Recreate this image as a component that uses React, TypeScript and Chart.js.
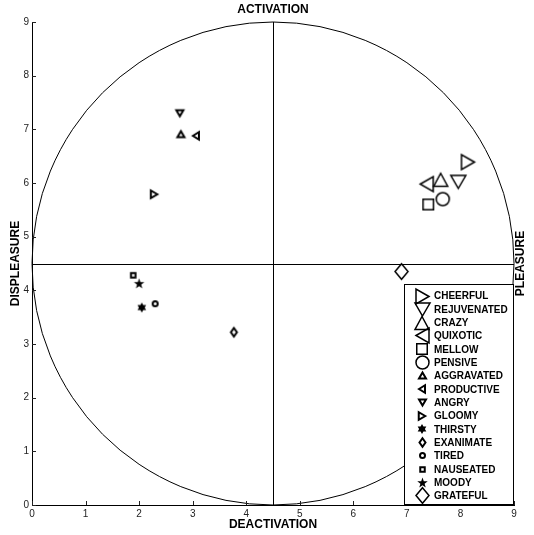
import React, { useEffect, useRef } from 'react';
import { Chart, registerables } from 'chart.js';
Chart.register(...registerables);

// ---- data ----
const emotions = ['CHEERFUL', 'REJUVENATED', 'CRAZY', 'QUIXOTIC', 'MELLOW', 'PENSIVE', 'AGGRAVATED', 'PRODUCTIVE', 'ANGRY', 'GLOOMY', 'THIRSTY', 'EXANIMATE', 'TIRED', 'NAUSEATED', 'MOODY', 'GRATEFUL'];
const deactivationValues = [8.14, 7.96, 7.63, 7.37, 7.40, 7.67, 2.78, 3.06, 2.76, 2.28, 2.05, 3.77, 2.30, 1.89, 2.00, 6.90];
const activationValues = [6.39, 6.02, 6.06, 5.98, 5.60, 5.70, 6.91, 6.88, 7.30, 5.79, 3.68, 3.22, 3.75, 4.28, 4.13, 4.35];
const xTickValues = [0, 1, 2, 3, 4, 5, 6, 7, 8, 9];
const yTickValues = [0, 1, 2, 3, 4, 5, 6, 7, 8, 9];
const centerValue = 4.5;

// ---- marker styles (by label) ----
type Spec = { shape: string; w: number; h: number; lw: number };
const markerStyle: Record<string, Spec> = {
  CHEERFUL: { shape: 'triRight', w: 13, h: 15, lw: 1.5 },
  REJUVENATED: { shape: 'triDown', w: 15, h: 13, lw: 1.5 },
  CRAZY: { shape: 'triUp', w: 14, h: 13, lw: 1.5 },
  QUIXOTIC: { shape: 'triLeft', w: 13, h: 15, lw: 1.5 },
  MELLOW: { shape: 'square', w: 10.5, h: 10.5, lw: 1.5 },
  PENSIVE: { shape: 'circle', w: 13, h: 13, lw: 1.5 },
  AGGRAVATED: { shape: 'triUp', w: 7, h: 6, lw: 2 },
  PRODUCTIVE: { shape: 'triLeft', w: 6, h: 7.5, lw: 2 },
  ANGRY: { shape: 'triDown', w: 7, h: 6, lw: 2 },
  GLOOMY: { shape: 'triRight', w: 6.5, h: 7.5, lw: 2 },
  THIRSTY: { shape: 'hexagram', w: 10, h: 10, lw: 0 },
  EXANIMATE: { shape: 'diamond', w: 6, h: 8.5, lw: 2 },
  TIRED: { shape: 'circle', w: 5, h: 5, lw: 2 },
  NAUSEATED: { shape: 'square', w: 4.5, h: 4.5, lw: 2 },
  MOODY: { shape: 'star', w: 11, h: 11, lw: 0 },
  GRATEFUL: { shape: 'diamond', w: 13, h: 15.5, lw: 1.5 },
};

function makeMarker(s: Spec): HTMLCanvasElement {
  const size = Math.ceil(Math.max(s.w, s.h) + s.lw + 4);
  const c = document.createElement('canvas');
  c.width = size;
  c.height = size;
  const g = c.getContext('2d')!;
  const cx = size / 2, cy = size / 2;
  const hw = s.w / 2, hh = s.h / 2;
  g.strokeStyle = '#000';
  g.fillStyle = '#000';
  g.lineWidth = s.lw;
  g.lineJoin = 'miter';
  g.beginPath();
  const poly = (pts: number[][]) => {
    g.moveTo(cx + pts[0][0], cy + pts[0][1]);
    for (let i = 1; i < pts.length; i++) g.lineTo(cx + pts[i][0], cy + pts[i][1]);
    g.closePath();
  };
  switch (s.shape) {
    case 'triUp': poly([[0, -hh], [hw, hh], [-hw, hh]]); break;
    case 'triDown': poly([[0, hh], [hw, -hh], [-hw, -hh]]); break;
    case 'triRight': poly([[hw, 0], [-hw, -hh], [-hw, hh]]); break;
    case 'triLeft': poly([[-hw, 0], [hw, -hh], [hw, hh]]); break;
    case 'square': poly([[-hw, -hh], [hw, -hh], [hw, hh], [-hw, hh]]); break;
    case 'diamond': poly([[0, -hh], [hw, 0], [0, hh], [-hw, 0]]); break;
    case 'circle': g.arc(cx, cy, hw, 0, Math.PI * 2); break;
    case 'star': {
      const R = hw, r = hw * 0.4;
      const pts: number[][] = [];
      for (let i = 0; i < 10; i++) {
        const a = -Math.PI / 2 + (i * Math.PI) / 5;
        const rr = i % 2 === 0 ? R : r;
        pts.push([rr * Math.cos(a), rr * Math.sin(a) + 0.5]);
      }
      poly(pts);
      g.fill();
      return c;
    }
    case 'hexagram': {
      const R = hw, r = hw * 0.577;
      const pts: number[][] = [];
      for (let i = 0; i < 12; i++) {
        const a = -Math.PI / 2 + (i * Math.PI) / 6;
        const rr = i % 2 === 0 ? R : r;
        pts.push([rr * Math.cos(a), rr * Math.sin(a)]);
      }
      poly(pts);
      g.fill();
      return c;
    }
  }
  g.stroke();
  return c;
}

const FONT = "'Liberation Sans', Arial, Helvetica, sans-serif";

export default function App() {
  const ref = useRef<HTMLCanvasElement>(null);
  useEffect(() => {
    document.body.style.margin = '0';
    const canvas = ref.current!;
    const markers = emotions.map((e) => makeMarker(markerStyle[e]));

    const decor = {
      id: 'decor',
      beforeDatasetsDraw(chart: any) {
        const { ctx, chartArea } = chart;
        const { left, right, top, bottom } = chartArea;
        const xs = chart.scales.x, ys = chart.scales.y;
        const cx = xs.getPixelForValue(centerValue);
        const cy = ys.getPixelForValue(centerValue);
        const rx = xs.getPixelForValue(xTickValues[xTickValues.length - 1]) - cx;
        const ry = cy - ys.getPixelForValue(yTickValues[yTickValues.length - 1]);
        ctx.save();
        ctx.strokeStyle = '#000';
        ctx.lineWidth = 1;
        ctx.beginPath();
        ctx.ellipse(cx, cy, rx, ry, 0, 0, Math.PI * 2);
        ctx.stroke();
        const vx = Math.round(cx) + 0.5, hy = Math.round(cy) + 0.5;
        ctx.beginPath();
        ctx.moveTo(vx, top);
        ctx.lineTo(vx, bottom);
        ctx.moveTo(left, hy);
        ctx.lineTo(right, hy);
        ctx.stroke();
        // inward ticks
        ctx.beginPath();
        ctx.strokeStyle = '#222';
        xTickValues.forEach((v) => {
          const px = Math.round(xs.getPixelForValue(v)) + 0.5;
          ctx.moveTo(px, bottom);
          ctx.lineTo(px, bottom - 4);
        });
        yTickValues.forEach((v) => {
          const py = Math.round(ys.getPixelForValue(v)) + 0.5;
          ctx.moveTo(left, py);
          ctx.lineTo(left + 4, py);
        });
        ctx.stroke();
        ctx.restore();
      },
      afterDatasetsDraw(chart: any) {
        const { ctx, chartArea } = chart;
        const { left, right, top, bottom } = chartArea;
        ctx.save();
        // legend
        const bw = 110, bh = 221;
        const bx = right - bw, by = bottom - bh;
        ctx.fillStyle = '#fff';
        ctx.fillRect(bx, by, bw, bh);
        ctx.strokeStyle = '#000';
        ctx.lineWidth = 1;
        ctx.strokeRect(Math.round(bx) + 0.5, Math.round(by) + 0.5, bw - 1, bh - 1);
        ctx.font = `bold 10px ${FONT}`;
        ctx.fillStyle = '#000';
        ctx.textBaseline = 'middle';
        ctx.textAlign = 'left';
        chart.data.datasets.forEach((ds: any, i: number) => {
          const yy = by + 12 + i * 13.33;
          const m = ds.pointStyle as HTMLCanvasElement;
          ctx.drawImage(m, Math.round(bx + 18 - m.width / 2), Math.round(yy - m.height / 2));
          ctx.fillText(ds.label, bx + 30, yy + 0.5);
        });
        // extra titles
        ctx.font = `bold 12px ${FONT}`;
        ctx.textAlign = 'center';
        ctx.fillText('ACTIVATION', (left + right) / 2, 10);
        ctx.save();
        ctx.translate(521, (top + bottom) / 2);
        ctx.rotate(-Math.PI / 2);
        ctx.fillText('PLEASURE', 0, 0);
        ctx.restore();
        ctx.restore();
      },
    };

    const chart = new Chart(canvas, {
      type: 'scatter',
      data: {
        datasets: emotions.map((e, i) => ({
          label: e,
          data: [{ x: deactivationValues[i], y: activationValues[i] }],
          pointStyle: markers[i] as any,
          pointRadius: 8,
          borderColor: '#000',
          backgroundColor: 'transparent',
          clip: false as any,
        })),
      },
      options: {
        responsive: false,
        animation: false,
        events: [],
        layout: { padding: { left: 0, top: 22, right: 20, bottom: 0 } },
        plugins: { legend: { display: false }, tooltip: { enabled: false } },
        scales: {
          x: {
            type: 'linear',
            min: 0,
            max: 9,
            afterFit: (s: any) => { s.height = 30; },
            grid: { display: false, drawTicks: false },
            border: { display: true, color: '#000', width: 1 },
            ticks: { stepSize: 1, padding: 3, color: '#222', font: { size: 10, family: FONT } },
            title: { display: true, text: 'DEACTIVATION', color: '#000', padding: { top: 0, bottom: 3 }, font: { size: 12, weight: 'bold', family: FONT } },
          },
          y: {
            type: 'linear',
            min: 0,
            max: 9,
            afterFit: (s: any) => { s.width = 32; },
            grid: { display: false, drawTicks: false },
            border: { display: true, color: '#000', width: 1 },
            ticks: { stepSize: 1, padding: 3, color: '#222', font: { size: 10, family: FONT } },
            title: { display: true, text: 'DISPLEASURE', color: '#000', padding: { top: 8, bottom: 0 }, font: { size: 12, weight: 'bold', family: FONT } },
          },
        },
      },
      plugins: [decor],
    });
    return () => chart.destroy();
  }, []);
  return <canvas ref={ref} width={534} height={535} style={{ display: 'block' }} />;
}
